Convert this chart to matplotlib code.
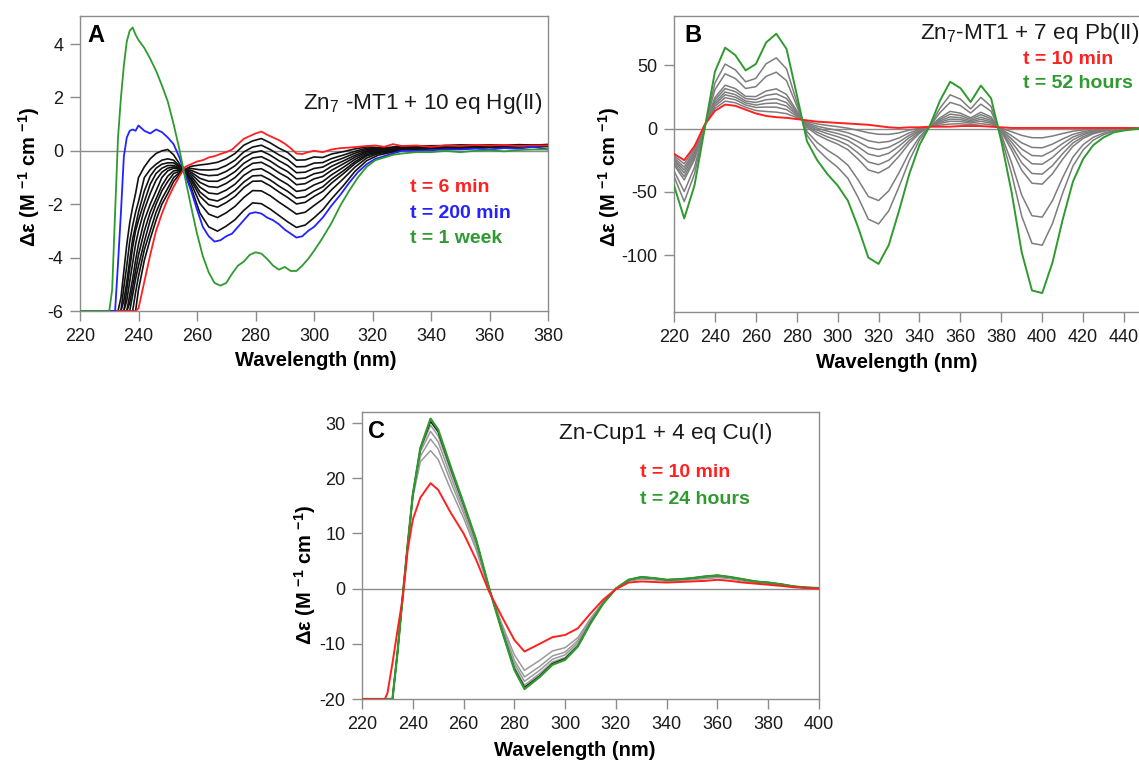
import matplotlib
matplotlib.use("Agg")
import matplotlib.pyplot as plt
from matplotlib.ticker import MultipleLocator

# ---------------- data: panel A (Zn7-MT1 + 10 eq Hg(II)) ----------------
wl_a = [220, 230, 231, 232, 233, 234, 235, 236, 237, 238, 239, 240,
        242, 244, 246, 248, 250, 252, 254, 256, 258, 260, 262, 264, 266, 268, 270,
        272, 274, 276, 278, 280, 282, 284, 286, 288, 290, 292, 294, 296, 298, 300,
        303, 306, 309, 312, 315, 318, 321, 324, 327, 330,
        335, 340, 345, 350, 355, 360, 365, 370, 375, 380]
a_red = [-6, -6, -6, -6, -6, -6, -6, -6, -6, -6, -6, -5.9,
         -4.9, -3.9, -3.0, -2.35, -1.8, -1.35, -0.95, -0.6, -0.5, -0.4, -0.35, -0.25, -0.2, -0.12, -0.05,
         0.05, 0.25, 0.45, 0.55, 0.65, 0.72, 0.6, 0.5, 0.4, 0.27, 0.1, -0.1, -0.12, -0.05, 0.0,
         -0.05, 0.05, 0.1, 0.12, 0.15, 0.18, 0.2, 0.15, 0.25, 0.18,
         0.2, 0.15, 0.2, 0.18, 0.22, 0.2, 0.22, 0.18, 0.2, 0.2]
a_blue = [-6, -6, -6, -6, -4.2, -2.3, -0.2, 0.5, 0.75, 0.8, 0.75, 0.95,
          0.75, 0.65, 0.8, 0.7, 0.5, 0.25, -0.25, -0.9, -1.5, -2.2, -2.85, -3.2, -3.4, -3.35, -3.2,
          -3.1, -2.85, -2.6, -2.35, -2.3, -2.35, -2.5, -2.6, -2.75, -2.95, -3.1, -3.25, -3.2, -3.0, -2.85,
          -2.5, -2.05, -1.65, -1.2, -0.8, -0.5, -0.3, -0.2, -0.1, 0.0,
          0.0, 0.02, 0.05, 0.05, 0.08, 0.05, 0.1, 0.08, 0.15, 0.05]
a_green = [-6, -6, -5.2, -2.3, 0.5, 2.0, 3.2, 4.1, 4.5, 4.62, 4.35, 4.15,
           3.85, 3.45, 3.0, 2.45, 1.85, 1.0, 0.05, -1.05, -2.1, -3.1, -3.95, -4.55, -4.95, -5.05, -4.95,
           -4.6, -4.3, -4.15, -3.9, -3.8, -3.85, -4.05, -4.3, -4.45, -4.35, -4.5, -4.5, -4.3, -4.05, -3.75,
           -3.25, -2.7, -2.05, -1.5, -1.0, -0.6, -0.35, -0.25, -0.15, -0.1,
           -0.05, -0.05, 0.0, -0.05, 0.0, 0.02, -0.02, 0.03, 0.05, 0.05]

wl_a_black = [220, 233, 234, 235, 236, 237, 238, 239, 240, 242, 244, 246, 248, 250, 252,
              255, 258, 261, 264, 267, 270, 273, 276, 279, 282, 285, 288, 291, 294, 297, 300, 303, 306,
              310, 314, 318, 322, 326, 330, 340, 350, 360, 370, 380]
a_black_curves = [
    [-6, -6, -6, -6, -6, -6, -6, -6, -5.2, -4.1, -3.3, -2.6, -2.0, -1.6, -1.15,
     -0.74, -0.58, -0.53, -0.49, -0.43, -0.3, -0.1, 0.21, 0.37, 0.46, 0.3, 0.1, -0.06, -0.35, -0.34, -0.23, -0.25, -0.12,
     -0.03, 0.07, 0.15, 0.12, 0.13, 0.18, 0.19, 0.2, 0.22, 0.2, 0.22],
    [-6, -6, -6, -6, -6, -6, -6, -5.3, -4.7, -3.7, -3.0, -2.3, -1.8, -1.4, -1.0,
     -0.73, -0.66, -0.71, -0.72, -0.69, -0.55, -0.35, -0.04, 0.14, 0.21, 0.05, -0.15, -0.32, -0.6, -0.59, -0.46, -0.44, -0.29,
     -0.16, -0.02, 0.1, 0.09, 0.11, 0.17, 0.18, 0.15, 0.18, 0.23, 0.2],
    [-6, -6, -6, -6, -6, -6, -5.4, -4.8, -4.3, -3.4, -2.6, -2.0, -1.5, -1.15, -0.85,
     -0.73, -0.73, -0.87, -0.93, -0.91, -0.77, -0.56, -0.25, -0.07, 0.0, -0.16, -0.37, -0.55, -0.82, -0.8, -0.66, -0.61, -0.43,
     -0.27, -0.09, 0.05, 0.07, 0.09, 0.15, 0.17, 0.22, 0.2, 0.18, 0.24],
    [-6, -6, -6, -6, -6, -5.7, -5.1, -4.5, -3.9, -3.0, -2.3, -1.8, -1.3, -0.95, -0.75,
     -0.72, -0.8, -1.03, -1.14, -1.14, -0.99, -0.78, -0.47, -0.27, -0.22, -0.38, -0.6, -0.78, -1.05, -1.02, -0.86, -0.79, -0.58,
     -0.38, -0.17, 0.0, 0.05, 0.08, 0.14, 0.16, 0.14, 0.16, 0.21, 0.18],
    [-6, -6, -6, -6, -6, -5.4, -4.8, -4.1, -3.5, -2.6, -2.0, -1.5, -1.0, -0.75, -0.65,
     -0.72, -0.87, -1.18, -1.34, -1.37, -1.22, -1.0, -0.68, -0.47, -0.43, -0.6, -0.82, -1.0, -1.27, -1.23, -1.05, -0.96, -0.73,
     -0.49, -0.24, -0.04, 0.02, 0.06, 0.13, 0.15, 0.18, 0.21, 0.17, 0.2],
    [-6, -6, -6, -6, -5.6, -4.9, -4.2, -3.5, -3.0, -2.2, -1.6, -1.1, -0.8, -0.65, -0.6,
     -0.71, -0.95, -1.36, -1.58, -1.62, -1.47, -1.25, -0.92, -0.71, -0.67, -0.85, -1.07, -1.26, -1.52, -1.47, -1.28, -1.15, -0.9,
     -0.62, -0.32, -0.09, -0.01, 0.04, 0.11, 0.13, 0.12, 0.15, 0.19, 0.19],
    [-6, -6, -6, -6, -5.2, -4.4, -3.6, -3.0, -2.6, -1.9, -1.25, -0.85, -0.65, -0.55, -0.55,
     -0.7, -1.03, -1.54, -1.81, -1.88, -1.72, -1.49, -1.17, -0.94, -0.92, -1.09, -1.32, -1.52, -1.77, -1.72, -1.51, -1.35, -1.06,
     -0.75, -0.41, -0.14, -0.04, 0.02, 0.09, 0.12, 0.17, 0.17, 0.16, 0.22],
    [-6, -6, -6, -5.6, -4.9, -4.1, -3.3, -2.8, -2.3, -1.5, -0.95, -0.65, -0.5, -0.45, -0.45,
     -0.7, -1.1, -1.7, -2.02, -2.11, -1.94, -1.71, -1.38, -1.14, -1.13, -1.31, -1.54, -1.75, -1.99, -1.93, -1.71, -1.52, -1.21,
     -0.86, -0.48, -0.19, -0.06, 0.0, 0.08, 0.11, 0.1, 0.14, 0.18, 0.17],
    [-6, -6, -6, -5.1, -4.3, -3.4, -2.8, -2.3, -1.9, -1.0, -0.7, -0.5, -0.35, -0.3, -0.35,
     -0.69, -1.22, -1.97, -2.37, -2.5, -2.32, -2.08, -1.75, -1.49, -1.5, -1.68, -1.92, -2.14, -2.37, -2.3, -2.05, -1.81, -1.46,
     -1.05, -0.61, -0.27, -0.1, -0.03, 0.06, 0.09, 0.12, 0.16, 0.14, 0.19],
    [-6, -6, -5.5, -4.5, -3.5, -2.7, -2.1, -1.6, -1.0, -0.6, -0.3, -0.1, 0.0, 0.05, -0.15,
     -0.66, -1.38, -2.33, -2.85, -3.01, -2.82, -2.58, -2.23, -1.95, -1.98, -2.18, -2.42, -2.66, -2.87, -2.78, -2.51, -2.21, -1.8,
     -1.31, -0.77, -0.37, -0.16, -0.07, 0.02, 0.07, 0.08, 0.12, 0.15, 0.16],
]

# ---------------- data: panel B (Zn7-MT1 + 7 eq Pb(II)) ----------------
wl_b = list(range(220, 451, 5))
b_red = [-20, -25, -14, 3, 14, 19, 18, 15, 12, 10, 9, 8.5, 7.5, 6.5, 5.5, 5, 4.5, 4, 3.5, 3, 2, 1, 0.5,
         1, 1, 1.5, 1.5, 1.5, 2, 2, 2, 1.5, 1, 0.5, 0.5, 0.5, 0.5, 0.5, 0.5, 0.5, 0.5, 0.5, 0.5, 0.5, 0.5, 0.3, 0]
b_green = [-45, -71, -45, 0, 45, 64, 58, 46, 51, 68, 75, 63, 27, -10, -25, -36, -45, -57, -78, -102, -107,
           -92, -65, -36, -13, 2, 22, 37, 32, 21, 34, 24, -10, -50, -98, -128, -130, -106, -72, -42, -24,
           -13, -7, -3, -1.5, -0.5, 0]
b_gray_curves = [
    [-21.5, -27.8, -15.9, 2.8, 15.9, 21.7, 20.4, 16.9, 14.3, 13.5, 13, 11.8, 8.7, 5.5, 3.7, 2.5, 1.5, 0.3,
     -1.4, -3.3, -4.5, -4.6, -3.4, -1.2, 0.2, 1.5, 2.7, 3.6, 3.8, 3.1, 3.9, 2.9, 0.3, -2.5, -5.4, -7.2,
     -7.3, -5.9, -3.9, -2.1, -1, -0.3, 0, 0.3, 0.4, 0.3, 0],
    [-23, -30.5, -17.7, 2.6, 17.7, 24.4, 22.8, 18.7, 16.7, 17, 16.9, 15, 9.8, 4.5, 1.8, 0.1, -1.4, -3.3,
     -6.3, -9.6, -11.1, -10.2, -7.4, -3.4, -0.7, 1.6, 4, 5.8, 5.6, 4.3, 5.8, 4.2, -0.3, -5.6, -11.3, -14.9,
     -15.2, -12.3, -8.2, -4.6, -2.4, -1.1, -0.4, 0.1, 0.3, 0.2, 0],
    [-24.3, -32.8, -19.3, 2.5, 19.3, 26.7, 24.8, 20.3, 18.6, 19.9, 20.2, 17.8, 10.8, 3.7, 0.3, -2, -3.9,
     -6.4, -10.4, -14.9, -16.5, -14.8, -10.6, -5.3, -1.4, 1.6, 5, 7.5, 7.1, 5.2, 7.4, 5.3, -0.9, -8.1,
     -16.2, -21.3, -21.7, -17.6, -11.8, -6.7, -3.7, -1.8, -0.8, -0.1, 0.2, 0.2, 0],
    [-25.5, -35.1, -20.8, 2.3, 20.8, 28.9, 26.8, 21.8, 20.6, 22.8, 23.5, 20.5, 11.8, 2.9, -1.2, -4, -6.4,
     -9.4, -14.4, -20.1, -22, -19.5, -13.9, -7.1, -2.1, 1.6, 6, 9.3, 8.6, 6.2, 9, 6.5, -1.4, -10.6, -21.2,
     -27.8, -28.2, -22.9, -15.5, -8.9, -4.9, -2.5, -1.2, -0.3, 0.1, 0.1, 0],
    [-27, -37.9, -22.7, 2.2, 22.7, 31.6, 29.2, 23.7, 22.9, 26.2, 27.5, 23.8, 13, 1.9, -3, -6.5, -9.4,
     -13.1, -19.3, -26.4, -28.5, -25, -17.8, -9.4, -2.9, 1.6, 7.2, 11.4, 10.4, 7.3, 11, 7.8, -2.1, -13.6,
     -27.1, -35.5, -36, -29.3, -19.8, -11.4, -6.4, -3.3, -1.6, -0.5, -0.1, 0.1, 0],
    [-28.5, -40.6, -24.5, 2, 24.5, 34.3, 31.6, 25.5, 25.3, 29.7, 31.4, 27, 14.1, 0.9, -4.9, -8.9, -12.3,
     -16.7, -24.2, -32.7, -35.1, -30.6, -21.8, -11.6, -3.8, 1.7, 8.5, 13.6, 12.2, 8.5, 12.9, 9.2, -2.7,
     -16.7, -33, -43.2, -43.9, -35.7, -24.2, -14, -7.8, -4.1, -2.1, -0.7, -0.2, 0, 0],
    [-33.5, -49.8, -30.7, 1.4, 30.7, 43.3, 39.6, 31.7, 33.1, 41.3, 44.6, 37.9, 18, -2.4, -11, -17.1,
     -22.2, -28.9, -40.5, -53.7, -56.9, -49.2, -34.9, -19, -6.6, 1.8, 12.6, 20.7, 18.2, 12.3, 19.3, 13.7,
     -4.9, -26.8, -52.7, -68.9, -70, -57, -38.7, -22.5, -12.7, -6.8, -3.6, -1.4, -0.6, -0.1, 0],
    [-37.8, -57.7, -36, 0.9, 36, 51, 46.4, 37, 39.7, 51.2, 55.9, 47.2, 21.3, -5.2, -16.2, -24.1, -30.6,
     -39.3, -54.4, -71.6, -75.4, -65, -46, -25.3, -8.9, 1.9, 16.1, 26.7, 23.3, 15.5, 24.7, 17.5, -6.8,
     -35.4, -69.4, -90.7, -92.2, -75.1, -51, -29.7, -16.9, -9.1, -4.8, -2, -0.9, -0.3, 0],
]

# ---------------- data: panel C (Zn-Cup1 + 4 eq Cu(I)) ----------------
wl_c = [220, 229, 230, 232, 234, 236, 238, 240, 243, 247, 250, 255, 260, 265, 270, 275, 280, 284,
        290, 295, 300, 305, 310, 315, 320, 325, 330, 335, 340, 345, 350, 355, 360, 365, 370, 375,
        380, 385, 390, 395, 400]
c_red = [-20, -20, -19, -13.5, -7.5, -1.8, 7, 12.5, 16.5, 19.1, 17.9, 13.7, 10, 5.2, -0.5, -5, -9.3, -11.4,
         -10, -8.8, -8.4, -7.2, -4.5, -2, -0.1, 1.1, 1.3, 1.2, 1.1, 1.2, 1.3, 1.4, 1.6, 1.4, 1.1, 0.9,
         0.7, 0.5, 0.25, 0.1, 0]
c_green = [-20, -20, -20, -20, -11.5, -1.5, 8, 17, 25.5, 30.8, 28.8, 22, 15.5, 8.8, 0.2, -7.5, -14.7, -18.2,
           -16, -13.8, -12.9, -10.5, -6.3, -2.7, 0, 1.6, 2.1, 1.9, 1.6, 1.7, 1.9, 2.2, 2.4, 2.1, 1.7, 1.3,
           1.1, 0.8, 0.4, 0.2, 0.1]
c_gray_curves = [
    [-20, -20, -20, -20, -11.5, -1.6, 7.8, 16.5, 23, 25, 23.4, 17.9, 12.8, 7, -0.1, -6.3, -12, -14.8,
     -13, -11.3, -10.7, -8.9, -5.4, -2.4, -0.1, 1.4, 1.7, 1.6, 1.4, 1.5, 1.6, 1.8, 2, 1.8, 1.4, 1.1,
     0.9, 0.7, 0.35, 0.15, 0.05],
    [-20, -20, -20, -20, -11.5, -1.5, 7.9, 16.8, 24, 27.1, 25.3, 19.3, 13.7, 7.6, 0, -6.7, -13, -16,
     -14.1, -12.2, -11.5, -9.4, -5.7, -2.5, -0.1, 1.4, 1.8, 1.7, 1.4, 1.5, 1.7, 1.9, 2.1, 1.9, 1.5, 1.2,
     1, 0.7, 0.35, 0.17, 0.07],
    [-20, -20, -20, -20, -11.5, -1.5, 8, 17, 24.8, 28.5, 26.6, 20.3, 14.4, 8.1, 0.1, -7, -13.6, -16.8,
     -14.8, -12.8, -12, -9.8, -5.9, -2.6, 0, 1.5, 1.9, 1.8, 1.5, 1.6, 1.8, 2, 2.2, 2, 1.6, 1.2,
     1, 0.7, 0.37, 0.18, 0.08],
    [-20, -20, -20, -20, -11.5, -1.5, 8, 17, 25.2, 29.6, 27.7, 21.2, 15, 8.4, 0.1, -7.3, -14.2, -17.5,
     -15.4, -13.3, -12.5, -10.2, -6.1, -2.6, 0, 1.55, 2, 1.8, 1.55, 1.65, 1.85, 2.1, 2.3, 2, 1.65, 1.25,
     1.05, 0.77, 0.39, 0.19, 0.09],
]
c_black = [-20, -20, -20, -20, -11.5, -1.5, 8, 17, 25.4, 30.3, 28.4, 21.7, 15.3, 8.7, 0.2, -7.4, -14.5, -17.9,
           -15.8, -13.6, -12.7, -10.4, -6.2, -2.7, 0, 1.6, 2.1, 1.9, 1.6, 1.7, 1.9, 2.2, 2.4, 2.1, 1.7, 1.3,
           1.1, 0.8, 0.4, 0.2, 0.1]

# ---------------- figure ----------------
plt.rcParams['font.family'] = ['Liberation Sans', 'DejaVu Sans']
plt.rcParams['mathtext.fontset'] = 'custom'
plt.rcParams['mathtext.rm'] = 'Liberation Sans'
plt.rcParams['mathtext.it'] = 'Liberation Sans:italic'
plt.rcParams['mathtext.bf'] = 'Liberation Sans:bold'
plt.rcParams['axes.unicode_minus'] = False

W, H = 1139, 760
fig = plt.figure(figsize=(W / 100, H / 100), dpi=100)
fig.patch.set_facecolor('white')

SP = '#8c8c8c'
RED = '#ff2020'
BLUE = '#2323ff'
GREEN = '#2f9a2f'


def px_axes(l, t, r, b):
    return fig.add_axes([l / W, 1 - b / H, (r - l) / W, (b - t) / H])


def style(ax, xmaj, ymaj):
    for s in ax.spines.values():
        s.set_color(SP)
        s.set_linewidth(1.0)
    ax.tick_params(direction='out', length=7, width=1, color=SP, labelsize=13,
                   labelcolor='#1a1a1a')
    ax.tick_params(axis='x', pad=5)
    ax.tick_params(axis='y', pad=5)
    ax.xaxis.set_major_locator(MultipleLocator(xmaj))
    ax.yaxis.set_major_locator(MultipleLocator(ymaj))
    ax.axhline(0, color=SP, lw=1.0, zorder=1)


def ftext(x, y, s, **kw):
    fig.text(x / W, 1 - y / H, s, **kw)


YLAB = 'Δε (M $^{\\mathbf{-1}}$ cm $^{\\mathbf{-1}}$)'
TFS = 16.2   # title size
LFS = 14.5   # axis label size

# ---- Panel A ----
axA = px_axes(80, 16, 548, 311)
style(axA, 20, 2)
for row in a_black_curves:
    axA.plot(wl_a_black, row, color='#111111', lw=1.2, zorder=3)
axA.plot(wl_a, a_red, color=RED, lw=1.3, zorder=4)
axA.plot(wl_a, a_blue, color=BLUE, lw=1.3, zorder=4)
axA.plot(wl_a, a_green, color=GREEN, lw=1.3, zorder=4)
axA.set_xlim(220, 380)
axA.set_ylim(-6, 5.05)
ftext(87, 36, 'A', fontsize=17, fontweight='bold', ha='left', va='center')
ftext(542, 103, 'Zn$_7$ -MT1 + 10 eq Hg(II)', fontsize=TFS, ha='right', va='center', color='#1a1a1a')
ftext(410, 187, 't = 6 min', fontsize=14, fontweight='bold', color=RED, ha='left', va='center')
ftext(410, 213, 't = 200 min', fontsize=14, fontweight='bold', color=BLUE, ha='left', va='center')
ftext(410, 239, 't = 1 week', fontsize=14, fontweight='bold', color=GREEN, ha='left', va='center')
ftext(316, 361, 'Wavelength (nm)', fontsize=LFS, fontweight='bold', ha='center', va='center')
ftext(29, 177, YLAB, fontsize=LFS, fontweight='bold', rotation=90, ha='center', va='center')

# ---- Panel B ----
axB = px_axes(674, 16, 1144.5, 312)
style(axB, 20, 50)
for row in b_gray_curves:
    axB.plot(wl_b, row, color='#7d7d7d', lw=1.1, zorder=3)
axB.plot(wl_b, b_red, color=RED, lw=1.4, zorder=4)
axB.plot(wl_b, b_green, color=GREEN, lw=1.4, zorder=4)
axB.set_xlim(220, 450)
axB.set_ylim(-145, 89)
axB.spines['right'].set_visible(False)
ftext(684, 35, 'B', fontsize=17, fontweight='bold', ha='left', va='center')
ftext(1139, 33, 'Zn$_7$-MT1 + 7 eq Pb(II)', fontsize=TFS, ha='right', va='center', color='#1a1a1a')
ftext(1023, 60, 't = 10 min', fontsize=14, fontweight='bold', color=RED, ha='left', va='center')
ftext(1023, 84, 't = 52 hours', fontsize=14, fontweight='bold', color=GREEN, ha='left', va='center')
ftext(897, 363, 'Wavelength (nm)', fontsize=LFS, fontweight='bold', ha='center', va='center')
ftext(609, 177, YLAB, fontsize=LFS, fontweight='bold', rotation=90, ha='center', va='center')

# ---- Panel C ----
axC = px_axes(362, 412, 819, 699)
style(axC, 20, 10)
for row in c_gray_curves:
    axC.plot(wl_c, row, color='#9a9a9a', lw=1.1, zorder=3)
axC.plot(wl_c, c_black, color='#111111', lw=1.1, zorder=3)
axC.plot(wl_c, c_green, color=GREEN, lw=1.6, zorder=4)
axC.plot(wl_c, c_red, color=RED, lw=1.4, zorder=5)
axC.set_xlim(220, 400)
axC.set_ylim(-20, 32)
ftext(368, 431, 'C', fontsize=17, fontweight='bold', ha='left', va='center')
ftext(666, 434, 'Zn-Cup1 + 4 eq Cu(I)', fontsize=TFS, ha='center', va='center', color='#1a1a1a')
ftext(640, 472, 't = 10 min', fontsize=14, fontweight='bold', color=RED, ha='left', va='center')
ftext(640, 499, 't = 24 hours', fontsize=14, fontweight='bold', color=GREEN, ha='left', va='center')
ftext(575, 750, 'Wavelength (nm)', fontsize=LFS, fontweight='bold', ha='center', va='center')
ftext(305, 575, YLAB, fontsize=LFS, fontweight='bold', rotation=90, ha='center', va='center')

fig.savefig('out.png', dpi=100, facecolor='white')
